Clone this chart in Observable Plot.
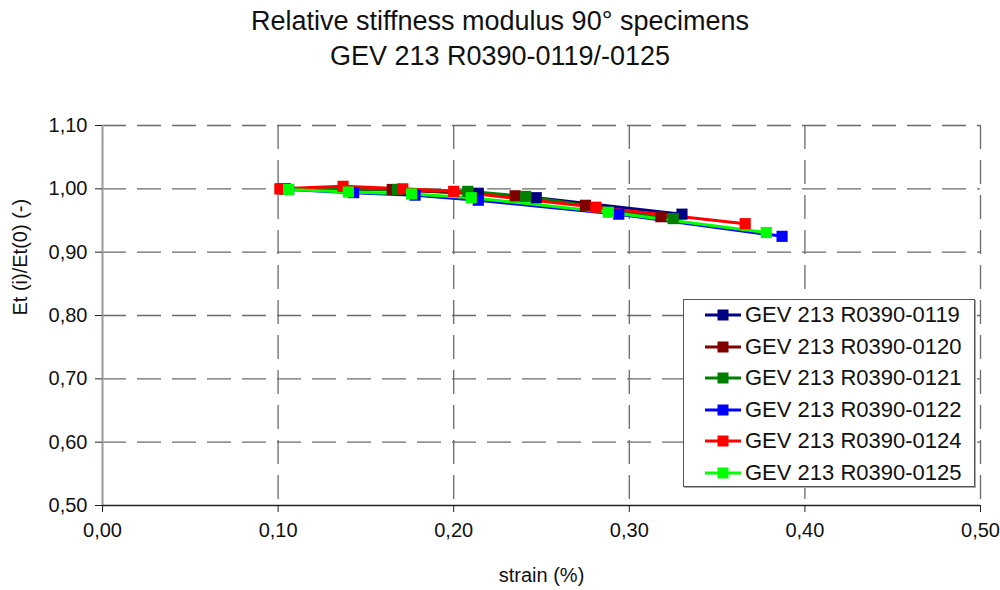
<!DOCTYPE html>
<html>
<head>
<meta charset="utf-8">
<script src="https://cdn.jsdelivr.net/npm/d3@7"></script>
<script src="https://cdn.jsdelivr.net/npm/@observablehq/plot@0.6"></script>
<style>
  html, body { margin: 0; padding: 0; background: #fff; }
  body { width: 1000px; height: 590px; position: relative; overflow: hidden; font-family: "Liberation Sans", Arial, sans-serif; }
  #title { height: 90px; text-align: center; font-size: 27px; line-height: 35px; color: #111; padding-top: 4px; box-sizing: border-box; }
  #legend { position: absolute; left: 683px; top: 299px; width: 292px; height: 188px; border: 1px solid #555; background: #fff; box-sizing: border-box; box-shadow: 1px 1px 0 #aaa; }
  .item { position: absolute; left: 0; height: 30px; display: flex; align-items: center; font-size: 22px; color: #111; white-space: nowrap; }
  .item svg { margin-left: 21px; margin-right: 4px; }
</style>
</head>
<body>
<div id="title">Relative stiffness modulus 90° specimens<br>GEV 213 R0390-0119/-0125</div>
<div id="chart"></div>
<div id="legend"></div>
<script>
const seriesNames = ["GEV 213 R0390-0119", "GEV 213 R0390-0120", "GEV 213 R0390-0121", "GEV 213 R0390-0122", "GEV 213 R0390-0124", "GEV 213 R0390-0125"];
const seriesColors = ["#000080", "#800000", "#008000", "#0000ff", "#ff0000", "#00ff00"];

const strain0119 = [0.104, 0.170, 0.214, 0.247, 0.330];
const ratio0119  = [1.000, 0.998, 0.993, 0.986, 0.960];
const strain0120 = [0.102, 0.165, 0.235, 0.275, 0.318];
const ratio0120  = [1.000, 0.999, 0.989, 0.974, 0.956];
const strain0121 = [0.104, 0.168, 0.208, 0.241, 0.325];
const ratio0121  = [1.000, 0.999, 0.996, 0.988, 0.953];
const strain0122 = [0.106, 0.143, 0.178, 0.214, 0.294, 0.387];
const ratio0122  = [0.999, 0.994, 0.990, 0.982, 0.960, 0.925];
const strain0124 = [0.101, 0.137, 0.171, 0.200, 0.281, 0.366];
const ratio0124  = [1.000, 1.004, 1.000, 0.996, 0.971, 0.945];
const strain0125 = [0.106, 0.140, 0.176, 0.210, 0.288, 0.378];
const ratio0125  = [0.999, 0.995, 0.992, 0.986, 0.963, 0.931];

const xTicks = [0.0, 0.1, 0.2, 0.3, 0.4, 0.5];
const yTicks = [0.5, 0.6, 0.7, 0.8, 0.9, 1.0, 1.1];
const xLabel = "strain (%)";
const yLabel = "Et (i)/Et(0) (-)";

const strains = [strain0119, strain0120, strain0121, strain0122, strain0124, strain0125];
const ratios = [ratio0119, ratio0120, ratio0121, ratio0122, ratio0124, ratio0125];
const data = [];
seriesNames.forEach((name, i) => strains[i].forEach((s, j) => data.push({series: name, strain: s, ratio: ratios[i][j]})));

const fmt = d => d.toFixed(2).replace(".", ",");
const font = "Liberation Sans, Arial, sans-serif";

const chart = Plot.plot({
  width: 1000,
  height: 500,
  marginLeft: 102,
  marginRight: 20,
  marginTop: 35,
  marginBottom: 85,
  style: { fontFamily: font, fontSize: "20px", color: "#111", background: "#fff" },
  x: { domain: [0, 0.5] },
  y: { domain: [0.5, 1.1] },
  color: { domain: seriesNames, range: seriesColors },
  marks: [
    Plot.gridY(yTicks.slice(1), { stroke: "#6a6a6a", strokeOpacity: 1, strokeWidth: 1.3, strokeDasharray: "24,11" }),
    Plot.gridX(xTicks.slice(1), { stroke: "#6a6a6a", strokeOpacity: 1, strokeWidth: 1.3, strokeDasharray: "24,11" }),
    Plot.ruleX([0], { stroke: "#999", strokeWidth: 2 }),
    Plot.ruleY([0.5], { stroke: "#222", strokeWidth: 1.3 }),
    Plot.axisY(yTicks, { tickFormat: fmt, tickSize: 7, tickPadding: 8, stroke: "#222", fontSize: 20, label: null }),
    Plot.axisX(xTicks, { tickFormat: fmt, tickSize: 7, tickPadding: 10, stroke: "#222", fontSize: 20, label: null }),
    Plot.text([yLabel], { frameAnchor: "left", dx: -82, rotate: -90, fontSize: 20, fill: "#111" }),
    Plot.text([xLabel], { frameAnchor: "bottom", dy: 76, fontSize: 20, fill: "#111" }),
    Plot.line(data, { x: "strain", y: "ratio", z: "series", stroke: "series", strokeWidth: 3 }),
    Plot.dot(data, { x: "strain", y: "ratio", fill: "series", symbol: "square", r: 6.3, stroke: "none" })
  ]
});
document.getElementById("chart").appendChild(chart);

const legend = document.getElementById("legend");
seriesNames.forEach((name, i) => {
  const div = document.createElement("div");
  div.className = "item";
  div.style.top = (0 + i * 31.6) + "px";
  div.innerHTML = `<svg width="36" height="14"><line x1="0" y1="7" x2="36" y2="7" stroke="${seriesColors[i]}" stroke-width="3"/><rect x="12.5" y="1.5" width="11" height="11" fill="${seriesColors[i]}"/></svg><span>${name}</span>`;
  legend.appendChild(div);
});
</script>
</body>
</html>
